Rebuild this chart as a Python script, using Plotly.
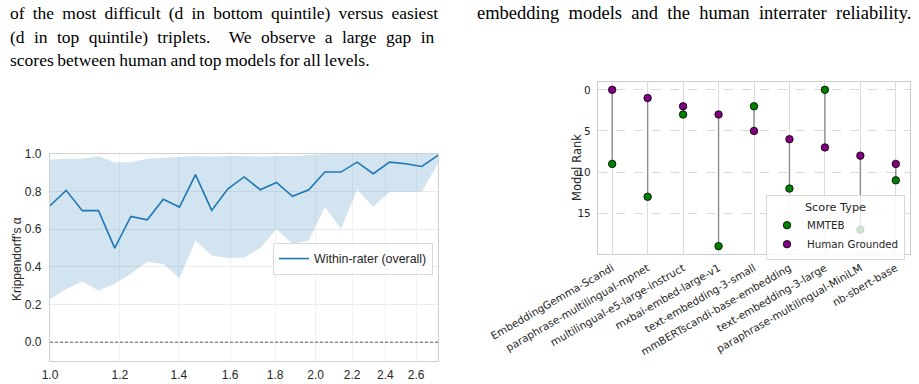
import math
import plotly.graph_objects as go

# ---------------- data: left chart ----------------
thresholds = [1.000, 1.043, 1.088, 1.135, 1.184, 1.235, 1.289, 1.344, 1.402, 1.462,
              1.525, 1.591, 1.660, 1.731, 1.806, 1.883, 1.965, 2.049, 2.137, 2.229,
              2.325, 2.426, 2.530, 2.639, 2.753]
alpha_mean = [0.725, 0.807, 0.699, 0.699, 0.500, 0.668, 0.650, 0.760, 0.718, 0.890,
              0.700, 0.815, 0.878, 0.810, 0.849, 0.775, 0.810, 0.904, 0.904, 0.957,
              0.895, 0.957, 0.948, 0.934, 0.993]
alpha_upper = [0.970, 0.975, 0.975, 0.988, 0.956, 0.956, 0.975, 0.980, 0.985, 0.990,
               0.985, 0.990, 0.990, 0.985, 0.990, 0.990, 0.995, 1.000, 1.000, 1.000,
               1.000, 1.000, 1.000, 1.000, 1.000]
alpha_lower = [0.229, 0.282, 0.323, 0.275, 0.310, 0.363, 0.427, 0.415, 0.340, 0.540,
               0.460, 0.447, 0.450, 0.500, 0.600, 0.523, 0.540, 0.720, 0.603, 0.810,
               0.718, 0.800, 0.800, 0.800, 0.950]
x_ticks = [1.0, 1.2, 1.4, 1.6, 1.8, 2.0, 2.2, 2.4, 2.6]
x_ticktext = ["1.0", "1.2", "1.4", "1.6", "1.8", "2.0", "2.2", "2.4", "2.6"]
y_ticks = [0.0, 0.2, 0.4, 0.6, 0.8, 1.0]
y_ticktext = ["0.0", "0.2", "0.4", "0.6", "0.8", "1.0"]

# ---------------- data: right chart ----------------
models = ["EmbeddingGemma-Scandi", "paraphrase-multilingual-mpnet",
          "multilingual-e5-large-instruct", "mxbai-embed-large-v1",
          "text-embedding-3-small", "mmBERTscandi-base-embedding",
          "text-embedding-3-large", "paraphrase-multilingual-MiniLM", "nb-sbert-base"]
rank_mmteb = [9, 13, 3, 19, 2, 12, 0, 17, 11]
rank_human = [0, 1, 2, 3, 5, 6, 7, 8, 9]
rank_ticks = [0, 5, 10, 15]

# ---------------- text ----------------
left_lines = [
    "of the most difficult (d in bottom quintile) versus easiest",
    "(d in top quintile) triplets.&nbsp; We observe a large gap in",
    "scores between human and top models for all levels.",
]
left_spacing = [3.8, 5.0, -0.8]
right_lines = ["embedding models and the human interrater reliability."]
right_spacing = [4.7]

W, H = 919, 384


def px(x):
    return x / W


def py(y):
    return 1 - y / H


fig = go.Figure()

# ---- left chart ----
fig.add_trace(go.Scatter(x=thresholds, y=alpha_upper, mode="lines",
                         line=dict(width=0, color="rgba(31,119,180,0)"),
                         showlegend=False, hoverinfo="skip", xaxis="x", yaxis="y"))
fig.add_trace(go.Scatter(x=thresholds, y=alpha_lower, mode="lines",
                         line=dict(width=0, color="rgba(31,119,180,0)"),
                         fill="tonexty", fillcolor="rgba(31,119,180,0.2)",
                         showlegend=False, hoverinfo="skip", xaxis="x", yaxis="y"))
fig.add_trace(go.Scatter(x=thresholds, y=alpha_mean, mode="lines",
                         line=dict(width=1.6, color="#1f77b4"),
                         name="Within-rater (overall)", legend="legend",
                         xaxis="x", yaxis="y"))

# ---- right chart ----
seg_x, seg_y = [], []
for m, a, b in zip(models, rank_mmteb, rank_human):
    seg_x += [m, m, None]
    seg_y += [a, b, None]
fig.add_trace(go.Scatter(x=seg_x, y=seg_y, mode="lines",
                         line=dict(color="#8c8c8c", width=1.4),
                         showlegend=False, hoverinfo="skip", xaxis="x2", yaxis="y2"))
fig.add_trace(go.Scatter(x=models, y=rank_mmteb, mode="markers", name="MMTEB",
                         marker=dict(size=7.5, color="green",
                                     line=dict(color="black", width=0.8)),
                         legend="legend2", xaxis="x2", yaxis="y2"))
fig.add_trace(go.Scatter(x=models, y=rank_human, mode="markers", name="Human Grounded",
                         marker=dict(size=7.5, color="purple",
                                     line=dict(color="black", width=0.8)),
                         legend="legend2", xaxis="x2", yaxis="y2"))

left_font = dict(family="Liberation Sans, Arial, sans-serif", size=12, color="#262626")
right_font = dict(family="DejaVu Sans, sans-serif", size=10.5, color="#262626")

fig.update_layout(
    width=W, height=H,
    margin=dict(l=0, r=0, t=0, b=0, pad=0, autoexpand=False),
    paper_bgcolor="white", plot_bgcolor="white",
    showlegend=True,
    xaxis=dict(type="log", domain=[px(50), px(438)], anchor="y", automargin=False,
               range=[math.log10(thresholds[0]), math.log10(thresholds[-1])],
               tickvals=x_ticks, ticktext=x_ticktext, tickfont=left_font,
               showgrid=True, gridcolor="#f1f1f1", gridwidth=1,
               showline=True, mirror=True, linecolor="#d0d0d0", linewidth=1.2,
               ticks="", zeroline=False, ticklabelstandoff=2),
    yaxis=dict(domain=[py(361), py(154)], anchor="x", automargin=False,
               range=[-0.1, 1.0], tickvals=y_ticks, ticktext=y_ticktext,
               tickfont=left_font,
               showgrid=True, gridcolor="#ebebeb", gridwidth=1,
               showline=True, mirror=True, linecolor="#d0d0d0", linewidth=1.2,
               ticks="", zeroline=False, ticklabelstandoff=5),
    xaxis2=dict(domain=[px(598), px(910)], anchor="y2", automargin=False,
                type="category", categoryorder="array", categoryarray=models,
                range=[-0.4, 8.4], tickangle=-30, tickfont=right_font,
                showgrid=True, gridcolor="#dcdcdc", gridwidth=1.2,
                showline=True, mirror=True, linecolor="#cccccc", linewidth=1.2,
                ticks="", zeroline=False, ticklabelstandoff=3),
    yaxis2=dict(domain=[py(254), py(82)], anchor="x2", automargin=False,
                range=[19.95, -0.95], tickvals=rank_ticks,
                ticktext=[str(v) for v in rank_ticks], tickfont=right_font,
                showgrid=True, gridcolor="#d9d9d9", gridwidth=0.8, griddash="dash",
                showline=True, mirror=True, linecolor="#cccccc", linewidth=1.2,
                ticks="", zeroline=False, ticklabelstandoff=4),
    legend=dict(x=px(433), xanchor="right", y=py(243), yanchor="top",
                bgcolor="rgba(255,255,255,0.85)", bordercolor="#d9d9d9", borderwidth=1,
                font=dict(family="Liberation Sans, Arial, sans-serif", size=12.4,
                          color="#262626"),
                itemwidth=30, tracegroupgap=0),
    legend2=dict(x=px(905), xanchor="right", y=py(195), yanchor="top",
                 bgcolor="rgba(255,255,255,0.8)", bordercolor="#d9d9d9", borderwidth=1,
                 font=dict(family="DejaVu Sans, sans-serif", size=10.3, color="#262626"),
                 title=dict(text="Score Type", side="top center",
                            font=dict(family="DejaVu Sans, sans-serif", size=11.3,
                                      color="#262626")),
                 itemwidth=30, tracegroupgap=0),
)

# dashed zero line and darker major gridline (x = 2.0) on left chart
fig.add_shape(type="line", xref="x", yref="y", x0=thresholds[0], x1=thresholds[-1],
              y0=0, y1=0, line=dict(color="#333333", width=0.8, dash="3px,2px"))
fig.add_shape(type="line", xref="x", yref="y", x0=2.0, x1=2.0, y0=-0.1, y1=1.0,
              line=dict(color="#e2e2e2", width=1), layer="below")

# axis titles
fig.add_annotation(text="Krippendorff's α", xref="paper", yref="paper",
                   x=px(17), y=py(259), textangle=-90, showarrow=False,
                   font=left_font, xanchor="center", yanchor="middle")
fig.add_annotation(text="Distance ratio threshold (far/close) [log scale]",
                   xref="paper", yref="paper", x=px(244), y=py(389),
                   showarrow=False, font=left_font, xanchor="center", yanchor="middle")
fig.add_annotation(text="Model Rank", xref="paper", yref="paper",
                   x=px(577), y=py(168), textangle=-90, showarrow=False,
                   font=dict(family="DejaVu Sans, sans-serif", size=11.5, color="#262626"),
                   xanchor="center", yanchor="middle")

# paper text
left_serif = dict(family="Liberation Serif, Times New Roman, serif", size=17.5,
                  color="black")
right_serif = dict(family="Liberation Serif, Times New Roman, serif", size=18.5,
                   color="black")
for i, (line, sp) in enumerate(zip(left_lines, left_spacing)):
    fig.add_annotation(text=f'<span style="word-spacing:{sp}px">{line}</span>',
                       xref="paper", yref="paper", x=px(8),
                       y=py(13 + 23.5 * i), xanchor="left", yanchor="middle",
                       showarrow=False, font=left_serif)
for i, (line, sp) in enumerate(zip(right_lines, right_spacing)):
    fig.add_annotation(text=f'<span style="word-spacing:{sp}px">{line}</span>',
                       xref="paper", yref="paper", x=px(475),
                       y=py(13 + 23.5 * i), xanchor="left", yanchor="middle",
                       showarrow=False, font=right_serif)

fig.write_html("out.html")
